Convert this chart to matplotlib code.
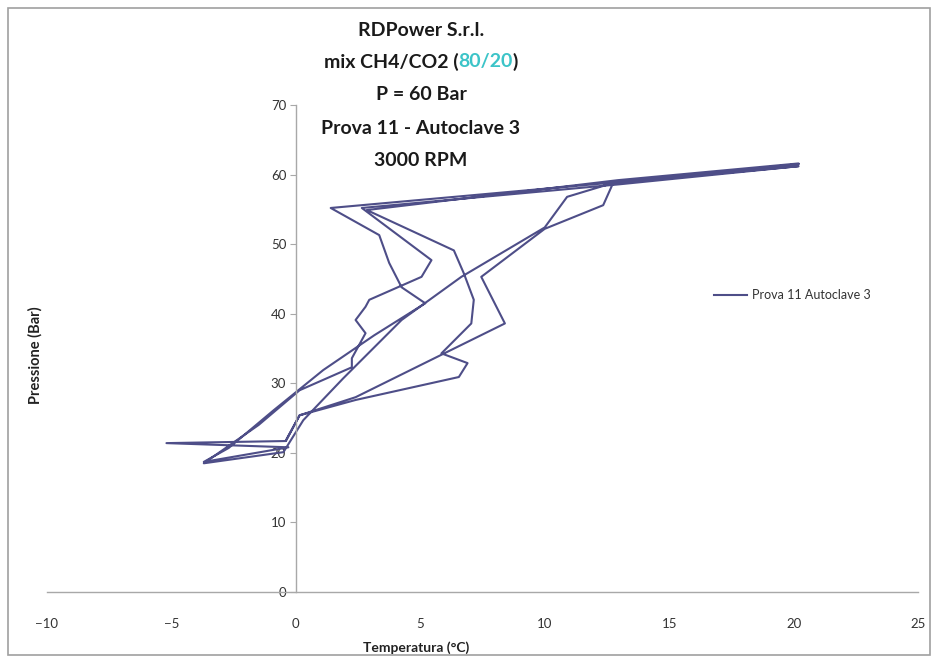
import matplotlib.pyplot as plt
from matplotlib.patches import Rectangle

# Prova 11 - Autoclave 3: temperature (C) vs pressure (bar), in recording order
temperatura = [20.2, 12.9, 1.4, 3.35, 3.75, 4.25, 5.2, 3.15, 1.1, -0.9, -2.7, -3.7, -0.3,
               -5.2, -0.4, 0.15, 2.4, 5.85, 8.4, 7.45, 10.0, 12.35, 12.75, 20.2,
               13.0, 2.65, 5.45, 5.05, 2.95, 2.8, 2.4, 2.8, 2.25, 2.25, 0.15, -1.5, -3.7,
               -0.5, 0.3, 1.9, 4.25, 6.65, 10.0, 10.9, 12.75, 20.2,
               12.95, 2.85, 6.35, 6.75, 7.15, 7.05, 5.85, 6.9, 6.55, 2.4, 0.15, -0.4]
pressione = [61.5, 58.9, 55.2, 51.3, 47.3, 43.8, 41.5, 36.9, 31.9, 26.1, 20.7, 18.7, 20.8,
             21.4, 21.7, 25.4, 28.0, 34.1, 38.6, 45.3, 52.2, 55.6, 58.8, 61.2,
             58.6, 55.2, 47.7, 45.3, 42.0, 41.0, 39.1, 37.2, 33.6, 32.3, 29.0, 24.0, 18.5,
             20.1, 24.7, 30.7, 39.1, 45.3, 52.4, 56.8, 58.8, 61.6,
             59.2, 54.9, 49.1, 45.8, 42.0, 38.6, 34.3, 32.9, 30.9, 27.6, 25.4, 21.8]

x_ticks = [-10, -5, 0, 5, 10, 15, 20, 25]
y_ticks = [0, 10, 20, 30, 40, 50, 60, 70]

title_lines = ["RDPower S.r.l.", None, "P = 60 Bar", "Prova 11 - Autoclave 3", "3000 RPM"]
serie = "Prova 11 Autoclave 3"

plt.rcParams['font.family'] = ['Lato', 'DejaVu Sans']

W, H = 937, 662
fig = plt.figure(figsize=(W / 100, H / 100), dpi=100)
fig.patches.append(Rectangle((8 / W, 7 / H), 922 / W, 647 / H, transform=fig.transFigure,
                             fill=False, edgecolor='#a0a0a0', lw=1.2))

ax = fig.add_axes([47 / W, 70 / H, 871 / W, 487 / H])
ax.plot(temperatura, pressione, color='#4e4e88', lw=1.5, label=serie)

ax.set_xlim(-10, 25)
ax.set_ylim(0, 70)
ax.set_xticks(x_ticks)
ax.set_yticks(y_ticks)

ax.spines['top'].set_visible(False)
ax.spines['right'].set_visible(False)
ax.spines['left'].set_position(('data', 0))
for s in ('left', 'bottom'):
    ax.spines[s].set_color('#a8a8a8')
    ax.spines[s].set_linewidth(1.0)

ax.tick_params(axis='y', direction='out', length=4, color='#a8a8a8', labelsize=9.5,
               labelcolor='#333333', pad=3)
ax.tick_params(axis='x', direction='out', length=0, labelsize=9.5, labelcolor='#333333', pad=19)

ax.legend(loc='center left', bbox_to_anchor=(714 / W, (H - 295) / H),
          bbox_transform=fig.transFigure, frameon=False, borderaxespad=0, borderpad=0,
          handlelength=2.6, handletextpad=0.4, fontsize=9, labelcolor='#333333')

fig.text(416 / W, (H - 648) / H, "Temperatura (°C)", ha='center', va='center',
         fontsize=10, fontweight='bold', color='#222222')
fig.text(35 / W, (H - 355) / H, "Pressione (Bar)", ha='center', va='center',
         rotation=90, fontsize=10.5, fontweight='bold', color='#222222')

# five-line title, second line has the mix ratio in teal
cx = 421
line_y = [30, 62, 95, 128, 160]
for txt, y in zip(title_lines, line_y):
    if txt is not None:
        fig.text(cx / W, (H - y) / H, txt, ha='center', va='center',
                 fontsize=14, fontweight='bold', color='#1a1a1a')

fig.canvas.draw()
r = fig.canvas.get_renderer()
parts = [("mix CH4/CO2 (", '#1a1a1a'), ("80/20", '#3cc4c8'), (")", '#1a1a1a')]
pieces = [fig.text(0, (H - line_y[1]) / H, s, ha='left', va='center', fontsize=14,
                   fontweight='bold', color=c) for s, c in parts]
widths = [p.get_window_extent(r).width for p in pieces]
x0 = cx - sum(widths) / 2
for p, w in zip(pieces, widths):
    p.set_x(x0 / W)
    x0 += w

fig.savefig("out.png", dpi=100)
